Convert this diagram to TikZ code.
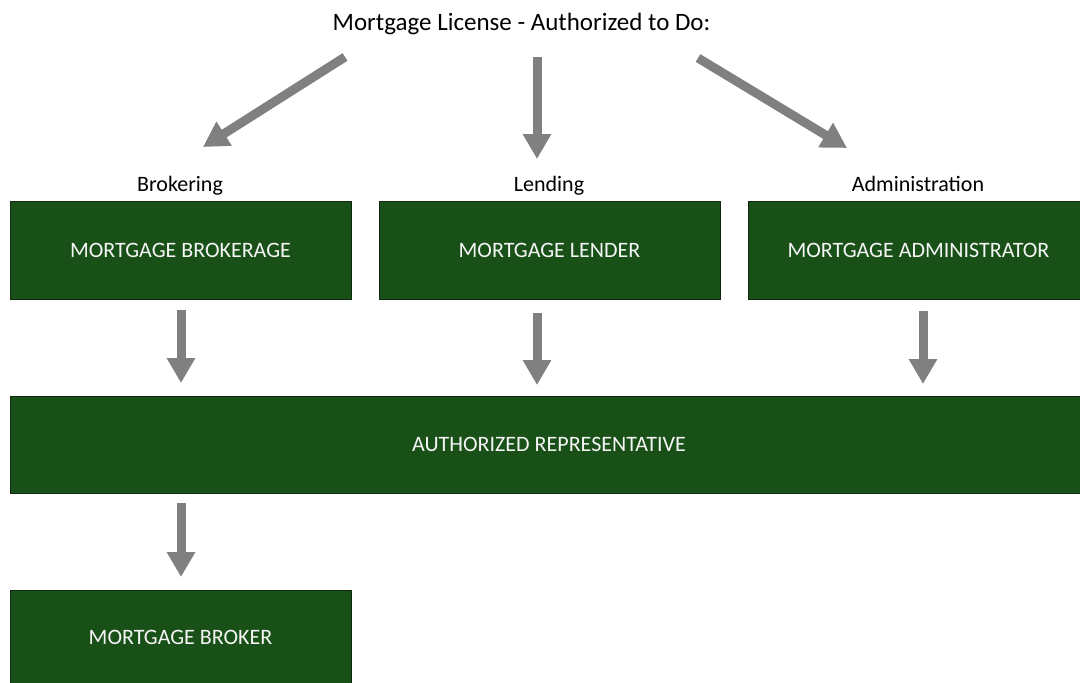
\documentclass[tikz,border=0pt]{standalone}
\usepackage{fontspec}
\setmainfont{Carlito}
\usetikzlibrary{arrows.meta}
\definecolor{boxgreen}{RGB}{25,80,23}
\definecolor{boxedge}{RGB}{18,40,16}
\definecolor{arrowgray}{RGB}{128,128,128}
\begin{document}
\begin{tikzpicture}[x=1pt,y=-1pt,
  greenbox/.style={draw=boxedge,line width=1pt,fill=boxgreen,text=white!92!gray,
    font=\fontsize{22}{26}\selectfont,anchor=center,inner sep=0pt},
  caption/.style={font=\fontsize{22}{26}\selectfont,text=black,anchor=base},
  arr/.style={draw=arrowgray,line width=9pt,
    -{Triangle[width=27pt,length=25pt,fill=arrowgray]}}]
\useasboundingbox (0,0) rectangle (1080,683);
\clip (0,0) rectangle (1080,683);

% heading and branch labels
\node[font=\fontsize{25}{30}\selectfont,anchor=base] (title) at (521.5,30) {Mortgage License - Authorized to Do:};
\node[caption] (lbrok) at (180,191) {Brokering};
\node[caption] (llend) at (549,191) {Lending};
\node[caption] (ladm)  at (918,191) {Administration};

% boxes
\node[greenbox,minimum width=341pt,minimum height=98pt] (brokerage) at (180.5,250) {MORTGAGE BROKERAGE};
\node[greenbox,minimum width=341pt,minimum height=98pt] (lender) at (549.5,250) {MORTGAGE LENDER};
\node[greenbox,minimum width=341pt,minimum height=98pt] (admin) at (918.5,250) {MORTGAGE ADMINISTRATOR};
\node[greenbox,minimum width=1078pt,minimum height=97pt] (rep) at (549,444.5) {AUTHORIZED REPRESENTATIVE};
\node[greenbox,minimum width=341pt,minimum height=94pt] (broker) at (180.5,637) {MORTGAGE BROKER};

% arrow end points
\coordinate (t1) at (345,57);  \coordinate (h1) at (203,147);
\coordinate (t2) at (537,57);  \coordinate (h2) at (537,159);
\coordinate (t3) at (698,58);  \coordinate (h3) at (847,148);
\coordinate (d1) at (181,383); \coordinate (d2) at (537,385); \coordinate (d3) at (923,384);
\coordinate (d4) at (181,577);

% arrows from the heading
\draw[arr] (t1) -- (h1);
\draw[arr] (t2) -- (h2);
\draw[arr] (t3) -- (h3);

% arrows down to the representative and broker
\draw[arr] (brokerage.south -| d1) ++(0,10) -- (d1);
\draw[arr] (lender.south -| d2) ++(0,13) -- (d2);
\draw[arr] (admin.south -| d3) ++(0,11) -- (d3);
\draw[arr] (rep.south -| d4) ++(0,9) -- (d4);
\end{tikzpicture}
\end{document}
